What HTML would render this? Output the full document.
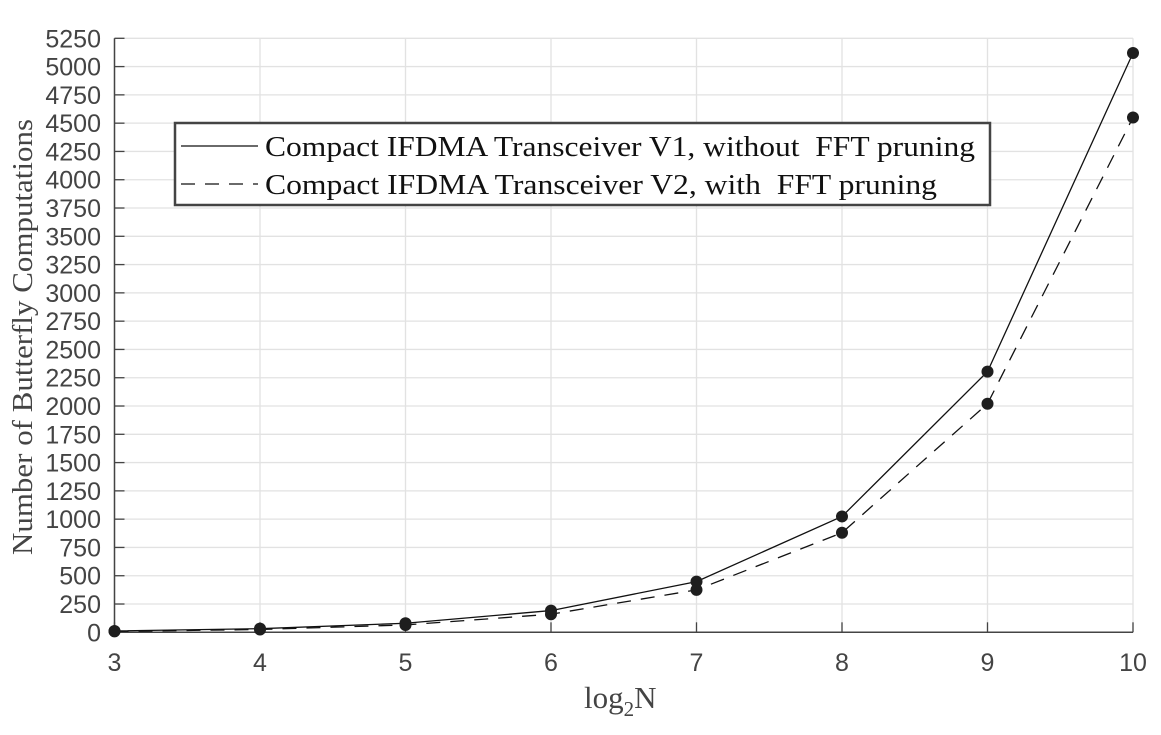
<!DOCTYPE html>
<html><head><meta charset="utf-8"><style>
body{margin:0;background:#fff;}
svg text{font-family:"Liberation Sans",sans-serif;}
</style></head><body>
<svg id="chart" width="1161" height="730" xmlns="http://www.w3.org/2000/svg">
<g id="grid"></g>
<g id="axes"></g>
<g id="series"></g>
<text transform="translate(32,337) rotate(-90)" text-anchor="middle" style="font-family:'Liberation Serif',serif" font-size="29" fill="#444" textLength="436" lengthAdjust="spacingAndGlyphs">Number of Butterfly Computations</text>
<text x="584" y="708" style="font-family:'Liberation Serif',serif" font-size="31" fill="#444">log<tspan font-size="21" dy="8">2</tspan><tspan dy="-8">N</tspan></text>
<g>
<rect x="175" y="123" width="815" height="82" fill="#fff" stroke="#444" stroke-width="2.5"/>
<line x1="181" y1="146" x2="258" y2="146" stroke="#111" stroke-width="1.3"/>
<text x="265" y="156" style="font-family:'Liberation Serif',serif;white-space:pre" font-size="29" fill="#111" textLength="710" lengthAdjust="spacingAndGlyphs">Compact IFDMA Transceiver V1, without&#160; FFT pruning</text>
<line x1="181" y1="184" x2="258" y2="184" stroke="#111" stroke-width="1.3" stroke-dasharray="14,10"/>
<text x="265" y="194" style="font-family:'Liberation Serif',serif;white-space:pre" font-size="29" fill="#111" textLength="672" lengthAdjust="spacingAndGlyphs">Compact IFDMA Transceiver V2, with&#160; FFT pruning</text>
</g>
</svg>
<script>
const categories=[3,4,5,6,7,8,9,10];
const seriesV1=[12,32,80,192,448,1024,2304,5120];
const seriesV2=[8,25,65,160,375,880,2020,4550];
const yTicks=[0,250,500,750,1000,1250,1500,1750,2000,2250,2500,2750,3000,3250,3500,3750,4000,4250,4500,4750,5000,5250];
const xTicks=[3,4,5,6,7,8,9,10];
const NS="http://www.w3.org/2000/svg";
const X0=114.5,X1=1133,Y0=632.3,Y1=38.3;
const xs=v=>X0+(v-3)/(10-3)*(X1-X0);
const ys=v=>Y0-v/5250*(Y0-Y1);
function mk(tag,attrs,parent){const e=document.createElementNS(NS,tag);for(const k in attrs)e.setAttribute(k,attrs[k]);parent.appendChild(e);return e;}
const grid=document.getElementById('grid'),axes=document.getElementById('axes'),ser=document.getElementById('series');
yTicks.forEach(t=>{
 const l=mk('line',{x1:X0,x2:X1,y1:ys(t),y2:ys(t),stroke:'#e2e2e2','stroke-width':1.3},grid);
 
 
 const k=mk('line',{x1:X0,x2:X0+10,y1:ys(t),y2:ys(t),stroke:'#444','stroke-width':1.3},axes);
 
 
 const tx=mk('text',{x:101,y:ys(t)+9,'text-anchor':'end','font-size':25,fill:'#444'},axes);
 tx.textContent=t;
 
 
});
xTicks.forEach(t=>{
 const l=mk('line',{x1:xs(t),x2:xs(t),y1:Y1,y2:Y0,stroke:'#e2e2e2','stroke-width':1.3},grid);
 
 
 const k=mk('line',{x1:xs(t),x2:xs(t),y1:Y0,y2:Y0-10,stroke:'#444','stroke-width':1.3},axes);
 
 
 const tx=mk('text',{x:xs(t),y:671,'text-anchor':'middle','font-size':25,fill:'#444'},axes);
 tx.textContent=t;
 
 
});
const ya=mk('line',{x1:X0,x2:X0,y1:Y1,y2:Y0,stroke:'#444','stroke-width':1.5},axes);


const xa=mk('line',{x1:X0,x2:X1,y1:Y0,y2:Y0,stroke:'#444','stroke-width':1.5},axes);


function draw(vals,dash,name){
 const p=mk('polyline',{points:categories.map((c,i)=>xs(c)+','+ys(vals[i])).join(' '),fill:'none',stroke:'#111','stroke-width':1.3},ser);
 if(dash)p.setAttribute('stroke-dasharray',dash);
 
 
 categories.forEach((c,i)=>{
  const d=mk('circle',{cx:xs(c),cy:ys(vals[i]),r:6,fill:'#1e1e1e'},ser);
  
  
 });
}
draw(seriesV1,null,'v1');
draw(seriesV2,'14,10','v2');
</script>
</body></html>
